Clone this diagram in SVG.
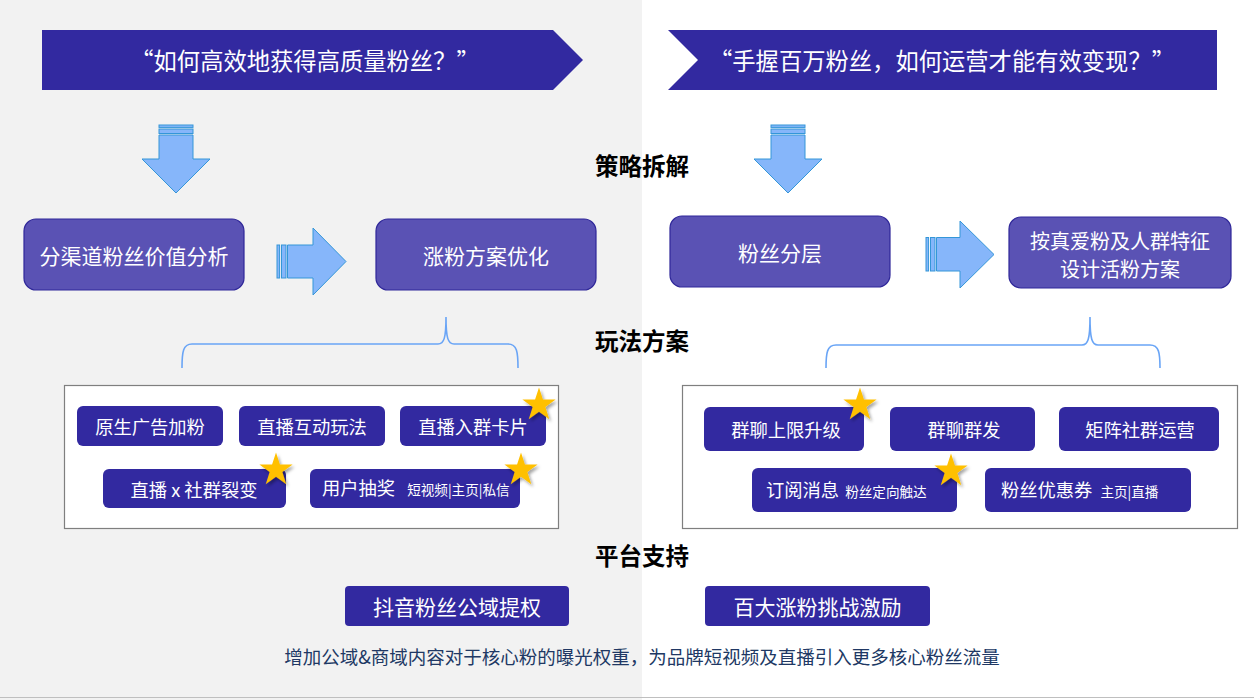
<svg xmlns="http://www.w3.org/2000/svg" width="1254" height="700" viewBox="0 0 1254 700">
<style>
text{font-family:"Noto Sans CJK SC","Noto Sans",sans-serif}
.ban{fill:#3229a0}
.bt{fill:#fff;font-size:23.3px;text-anchor:middle;dominant-baseline:central}
.arr{fill:#86b6fa;stroke:#3496d8;stroke-width:1}
.node{fill:#5a52b4;stroke:#2f2799;stroke-width:1.2}
.nt{fill:#fff;font-size:21px;text-anchor:middle;dominant-baseline:central}
.nt2{fill:#fff;font-size:20px;text-anchor:middle;dominant-baseline:central}
.sec{fill:#000;font-size:23.5px;font-weight:bold;text-anchor:middle;dominant-baseline:central}
.brace{fill:none;stroke:#6aa5f6;stroke-width:1.6}
.box{fill:#fff;stroke:#7f7f7f;stroke-width:1.2}
.btn{fill:#3229a0}
.btt{fill:#fff;font-size:18.3px;text-anchor:middle;dominant-baseline:central}
.btl{fill:#fff;font-size:18.3px}
.sm{font-size:13.6px}
.star{fill:#ffc000}
.note{fill:#203864;font-size:18.5px;text-anchor:middle;dominant-baseline:central}
</style>
<defs>
<filter id="sh" x="-50%" y="-50%" width="200%" height="200%">
<feDropShadow dx="2" dy="2.5" stdDeviation="1.8" flood-color="#000" flood-opacity="0.35"/>
</filter>
<path id="st" class="star" d="M0,-17.5 L3.93,-5.41 L16.64,-5.41 L6.36,2.07 L10.29,14.16 L0,6.69 L-10.29,14.16 L-6.36,2.07 L-16.64,-5.41 L-3.93,-5.41 Z"/>
</defs>
<rect x="0" y="0" width="1254" height="700" fill="#fff"/>
<rect x="0" y="0" width="642" height="700" fill="#f2f2f2"/>
<line x1="0" y1="697.5" x2="1254" y2="697.5" stroke="#bfbfbf" stroke-width="1"/>

<g id="banner-left">
<path class="ban" d="M42,30 H553 L583,60 L553,90 H42 Z"/>
<text class="bt" x="305" y="60">“如何高效地获得高质量粉丝？”</text>
</g>
<g id="banner-right">
<path class="ban" d="M668,30 H1217 V90 H668 L698,60 Z"/>
<text class="bt" x="942" y="60">“手握百万粉丝，如何运营才能有效变现？”</text>
</g>

<g id="labels">
<text class="sec" x="642" y="165">策略拆解</text>
<text class="sec" x="642" y="340">玩法方案</text>
<text class="sec" x="642" y="555">平台支持</text>
</g>

<g id="connectors">
<g id="arrow-down-left">
<rect class="arr" x="159" y="125" width="34" height="2.4"/>
<rect class="arr" x="159" y="129" width="34" height="4.5"/>
<path class="arr" d="M159,135 H193 V159 H210 L176,193 L142,159 H159 Z"/>
</g>
<g id="arrow-down-right">
<rect class="arr" x="771" y="125" width="34" height="2.4"/>
<rect class="arr" x="771" y="129" width="34" height="4.5"/>
<path class="arr" d="M771,135 H805 V159 H822 L788,193 L754,159 H771 Z"/>
</g>
<g id="arrow-right-left">
<rect class="arr" x="277" y="245" width="2.6" height="33"/>
<rect class="arr" x="281.5" y="245" width="4.5" height="33"/>
<path class="arr" d="M287.5,245 H313 V228 L346,261.5 L313,295 V278 H287.5 Z"/>
</g>
<g id="arrow-right-right">
<rect class="arr" x="926" y="237.5" width="2.6" height="33.5"/>
<rect class="arr" x="930.5" y="237.5" width="4.5" height="33.5"/>
<path class="arr" d="M936.5,237.5 H960 V221 L994,254.5 L960,288 V271 H936.5 Z"/>
</g>
<path id="brace-left" class="brace" d="M182,368 C182,352 183,344 192,344 L438,344 C444,344 446,338 446,317 C446,338 448,344 454,344 L508,344 C517,344 518,352 518,368"/>
<path id="brace-right" class="brace" d="M826,368 C826,353 827,345 836,345 L1082,345 C1088,345 1090,339 1090,317 C1090,339 1092,345 1098,345 L1150,345 C1159,345 1160,353 1160,368"/>
</g>

<g id="node-fenqudao">
<rect class="node" x="24" y="219" width="220" height="71" rx="12"/>
<text class="nt" x="134" y="254.5">分渠道粉丝价值分析</text>
</g>
<g id="node-zhangfen">
<rect class="node" x="376" y="219" width="220" height="71" rx="12"/>
<text class="nt" x="486" y="254.5">涨粉方案优化</text>
</g>
<g id="node-fenceng">
<rect class="node" x="670" y="216" width="220" height="71" rx="12"/>
<text class="nt" x="780" y="251.5">粉丝分层</text>
</g>
<g id="node-huofen">
<rect class="node" x="1009" y="217" width="222" height="71" rx="12"/>
<text class="nt2" x="1120" y="240">按真爱粉及人群特征</text>
<text class="nt2" x="1120" y="268">设计活粉方案</text>
</g>

<g id="box-left">
<rect class="box" x="64.5" y="385.5" width="494" height="143"/>
</g>
<g id="box-right">
<rect class="box" x="682.5" y="385.5" width="555" height="143"/>
</g>

<g id="btn-yuansheng">
<rect class="btn" x="77" y="406" width="146" height="40" rx="6"/>
<text class="btt" x="150" y="426">原生广告加粉</text>
</g>
<g id="btn-hudong">
<rect class="btn" x="239" y="406" width="146" height="40" rx="6"/>
<text class="btt" x="312" y="426">直播互动玩法</text>
</g>
<g id="btn-ruqun">
<rect class="btn" x="400" y="406" width="146" height="40" rx="6"/>
<text class="btt" x="473" y="426">直播入群卡片</text>
<use href="#st" x="539" y="405" filter="url(#sh)"/>
</g>
<g id="btn-liebian">
<rect class="btn" x="103" y="469" width="183" height="39" rx="6"/>
<text class="btt" x="194" y="488.5">直播 x 社群裂变</text>
<use href="#st" x="276" y="470" filter="url(#sh)"/>
</g>
<g id="btn-choujiang">
<rect class="btn" x="310" y="469" width="210" height="39" rx="6"/>
<text class="btl" x="322" y="495"><tspan>用户抽奖</tspan><tspan class="sm" dx="12">短视频|主页|私信</tspan></text>
<use href="#st" x="521" y="470" filter="url(#sh)"/>
</g>

<g id="btn-shangxian">
<rect class="btn" x="704" y="407" width="160" height="44" rx="6"/>
<text class="btt" x="786" y="429">群聊上限升级</text>
<use href="#st" x="860" y="405" filter="url(#sh)"/>
</g>
<g id="btn-qunfa">
<rect class="btn" x="890" y="407" width="145" height="44" rx="6"/>
<text class="btt" x="964" y="429">群聊群发</text>
</g>
<g id="btn-juzhen">
<rect class="btn" x="1059" y="407" width="160" height="44" rx="6"/>
<text class="btt" x="1140" y="429">矩阵社群运营</text>
</g>
<g id="btn-dingyue">
<rect class="btn" x="752" y="468" width="205" height="44" rx="6"/>
<text class="btl" x="766" y="497"><tspan>订阅消息</tspan><tspan class="sm" dx="6">粉丝定向触达</tspan></text>
<use href="#st" x="951" y="471" filter="url(#sh)"/>
</g>
<g id="btn-youhui">
<rect class="btn" x="985" y="468" width="206" height="44" rx="6"/>
<text class="btl" x="1001" y="497"><tspan>粉丝优惠券</tspan><tspan class="sm" dx="8">主页|直播</tspan></text>
</g>

<g id="btn-tiquan">
<rect class="btn" x="345" y="586" width="224" height="40" rx="4"/>
<text class="nt" x="457" y="606">抖音粉丝公域提权</text>
</g>
<g id="btn-jili">
<rect class="btn" x="705" y="586" width="225" height="40" rx="4"/>
<text class="nt" x="817.5" y="606">百大涨粉挑战激励</text>
</g>

<g id="note">
<text class="note" x="642" y="656">增加公域&amp;商域内容对于核心粉的曝光权重，为品牌短视频及直播引入更多核心粉丝流量</text>
</g>
</svg>
